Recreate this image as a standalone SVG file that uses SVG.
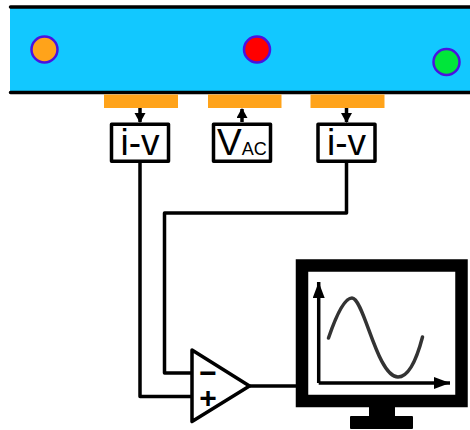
<svg xmlns="http://www.w3.org/2000/svg" width="470" height="430" viewBox="0 0 470 430">
<style>
.wire{fill:none;stroke:#000;stroke-width:3.500;stroke-linejoin:round}
.edge{fill:none;stroke:#000;stroke-width:3.500;stroke-linecap:round}
.dot{stroke:#4a12e0;stroke-width:2.500}
.pad{fill:#ffa31a}
.box{fill:#fff;stroke:#000;stroke-width:3.500;stroke-linejoin:round}
.lbl{font-family:"Liberation Sans",Arial,sans-serif;fill:#000}
</style>
<defs>
<marker id="a" markerUnits="userSpaceOnUse" markerWidth="11" markerHeight="12" refX="9" refY="5.500" orient="auto"><path d="M0 0L10 5.500L0 11Z" fill="#000"/></marker>
<marker id="b" markerUnits="userSpaceOnUse" markerWidth="17" markerHeight="13" refX="16" refY="6" orient="auto"><path d="M0 0L16 6L0 12Z" fill="#000"/></marker>
</defs>
<g id="channel">
<rect x="10" y="7" width="460" height="85" fill="#12c8ff"/>
<path class="edge" d="M10.500 7H470M10.500 92.500H470"/>
</g>
<g id="particle-orange"><circle class="dot" cx="44.500" cy="49.500" r="13" fill="#ffa31a"/></g>
<g id="particle-red"><circle class="dot" cx="257" cy="49.500" r="13" fill="#ff0000"/></g>
<g id="particle-green"><circle class="dot" cx="446.500" cy="62" r="13" fill="#00e63a"/></g>
<g id="pad-1"><rect class="pad" x="104" y="94.500" width="74" height="13.500"/></g>
<g id="pad-2"><rect class="pad" x="208" y="94.500" width="73.500" height="13.500"/></g>
<g id="pad-3"><rect class="pad" x="310.500" y="94.500" width="74" height="13.500"/></g>
<g id="iv-1"><rect class="box" x="111.500" y="124.200" width="57" height="37"/><text class="lbl" x="140" y="155" font-size="37" text-anchor="middle">i-v</text></g>
<g id="vac"><rect class="box" x="213.500" y="124.200" width="57" height="37"/><text class="lbl" x="217" y="155" font-size="37">V<tspan font-size="18">AC</tspan></text></g>
<g id="iv-2"><rect class="box" x="318" y="124.200" width="57" height="37"/><text class="lbl" x="346.500" y="155" font-size="37" text-anchor="middle">i-v</text></g>
<g id="connectors">
<path class="wire" d="M140 108V122" marker-end="url(#a)"/>
<path class="wire" d="M242 122V109" marker-end="url(#a)"/>
<path class="wire" d="M346.500 108V122" marker-end="url(#a)"/>
<path class="wire" d="M140 162V396.500H191"/>
<path class="wire" d="M346.500 162V213H164.500V373H191"/>
<path class="wire" d="M250 386H297"/>
</g>
<g id="amplifier">
<path d="M192 350L249.500 386L192 421.500Z" fill="#fff" stroke="#000" stroke-width="3.500" stroke-linejoin="round"/>
<text class="lbl" x="208" y="383" font-size="30" font-weight="bold" text-anchor="middle">−</text>
<text class="lbl" x="208" y="408" font-size="30" font-weight="bold" text-anchor="middle">+</text>
</g>
<g id="monitor">
<rect x="369" y="405" width="26" height="12" fill="#000"/>
<rect x="350" y="416" width="63" height="13" rx="1" fill="#000"/>
<rect x="302" y="265.500" width="159.500" height="135.500" fill="#fff" stroke="#000" stroke-width="12.500"/>
<path class="wire" d="M318.700 383V282" marker-end="url(#b)"/>
<path class="wire" d="M318.700 383H450" marker-end="url(#b)"/>
<path d="M328.500 338C336 316 344 298 352 298C364 298 377 377 398 377C409 377 417 358 422.500 337" fill="none" stroke="#333" stroke-width="3.500" stroke-linecap="round"/>
</g>
</svg>
